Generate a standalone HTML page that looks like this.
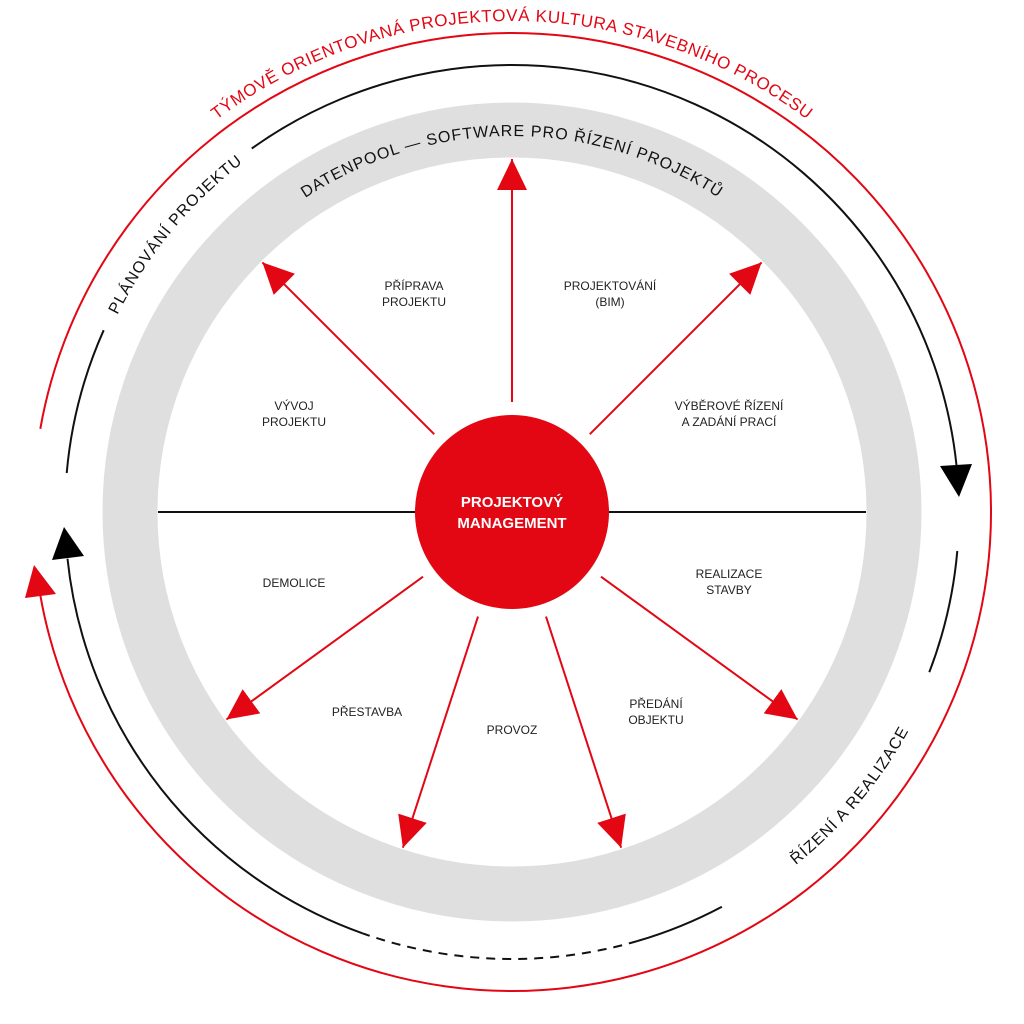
<!DOCTYPE html>
<html><head><meta charset="utf-8"><style>
html,body{margin:0;padding:0;background:#fff;}
svg{display:block;}
text{font-family:"Liberation Sans",sans-serif;}
.l{font-size:12px;fill:#222;text-anchor:middle;}
</style></head><body>
<svg width="1024" height="1024" viewBox="0 0 1024 1024" xmlns="http://www.w3.org/2000/svg">
<defs>
<marker id="ah" markerUnits="userSpaceOnUse" markerWidth="32" markerHeight="32" viewBox="0 0 32 32" refX="31" refY="16" orient="auto">
<path d="M0,1 L31,16 L0,31 Z" fill="#e30613"/>
</marker>
<path id="pRed" d="M135.9,196.4 A491,491 0 0 1 888.1,196.4"/>
<path id="pDat" d="M224,270.3 A376,376 0 0 1 800,270.3"/>
<path id="pPlan" d="M96.3,364.8 A441,441 0 0 1 288.2,132"/>
<path id="pReal" d="M721.2,913.8 A453,453 0 0 0 944,648.2"/>
</defs>

<path d="M40.3,428.8 A479,479 0 1 1 40.3,595.2" fill="none" stroke="#e30613" stroke-width="2"/>
<polygon points="34,565 25,598 56,594" fill="#e30613"/>

<g fill="none" stroke="#111" stroke-width="2">
<path d="M66.7,473 A447,447 0 0 1 103.7,330.2"/>
<path d="M251.8,148.5 A447,447 0 0 1 956.5,465.3"/>
<path d="M957.3,551 A447,447 0 0 1 929.3,672.2"/>
<path d="M721.9,906.7 A447,447 0 0 1 637.5,941"/>
<path d="M637.5,941 A447,447 0 0 1 362.8,933.4" stroke-dasharray="9,7"/>
<path d="M362.8,933.4 A447,447 0 0 1 67.5,558.7"/>
</g>
<polygon points="959,497 940,466 972,464" fill="#000"/>
<polygon points="64,527 52,560 84,556" fill="#000"/>

<circle cx="512" cy="512" r="382" fill="none" stroke="#dfdfdf" stroke-width="55"/>

<line x1="158" y1="512" x2="866" y2="512" stroke="#111" stroke-width="2"/>

<g stroke="#e30613" stroke-width="2" marker-end="url(#ah)">
<line x1="512" y1="402" x2="512" y2="159"/>
<line x1="434.2" y1="434.2" x2="262.4" y2="262.4"/>
<line x1="589.8" y1="434.2" x2="761.6" y2="262.4"/>
<line x1="423" y1="576.7" x2="226.4" y2="719.5"/>
<line x1="478" y1="616.6" x2="402.9" y2="847.7"/>
<line x1="546" y1="616.6" x2="621.1" y2="847.7"/>
<line x1="601" y1="576.7" x2="797.6" y2="719.5"/>
</g>

<circle cx="512" cy="512" r="97" fill="#e30613"/>
<text x="512" y="507" text-anchor="middle" font-size="15" font-weight="bold" fill="#fff">PROJEKTOVÝ</text>
<text x="512" y="528" text-anchor="middle" font-size="15" font-weight="bold" fill="#fff">MANAGEMENT</text>

<text font-size="17" fill="#e30613" letter-spacing="0.6"><textPath href="#pRed" startOffset="50%" text-anchor="middle">TÝMOVĚ ORIENTOVANÁ PROJEKTOVÁ KULTURA STAVEBNÍHO PROCESU</textPath></text>
<text font-size="16" fill="#111" letter-spacing="1"><textPath href="#pDat" startOffset="50%" text-anchor="middle">DATENPOOL — SOFTWARE PRO ŘÍZENÍ PROJEKTŮ</textPath></text>
<text font-size="16" fill="#111" letter-spacing="1"><textPath href="#pPlan" startOffset="50%" text-anchor="middle">PLÁNOVÁNÍ PROJEKTU</textPath></text>
<text font-size="16" fill="#111" letter-spacing="1"><textPath href="#pReal" startOffset="50%" text-anchor="middle">ŘÍZENÍ A REALIZACE</textPath></text>

<text class="l" x="414" y="290">PŘÍPRAVA</text>
<text class="l" x="414" y="306">PROJEKTU</text>
<text class="l" x="610" y="290">PROJEKTOVÁNÍ</text>
<text class="l" x="610" y="306">(BIM)</text>
<text class="l" x="294" y="410">VÝVOJ</text>
<text class="l" x="294" y="426">PROJEKTU</text>
<text class="l" x="729" y="410">VÝBĚROVÉ ŘÍZENÍ</text>
<text class="l" x="729" y="426">A ZADÁNÍ PRACÍ</text>
<text class="l" x="294" y="587">DEMOLICE</text>
<text class="l" x="729" y="578">REALIZACE</text>
<text class="l" x="729" y="594">STAVBY</text>
<text class="l" x="367" y="716">PŘESTAVBA</text>
<text class="l" x="512" y="734">PROVOZ</text>
<text class="l" x="656" y="708">PŘEDÁNÍ</text>
<text class="l" x="656" y="724">OBJEKTU</text>
</svg>
</body></html>
